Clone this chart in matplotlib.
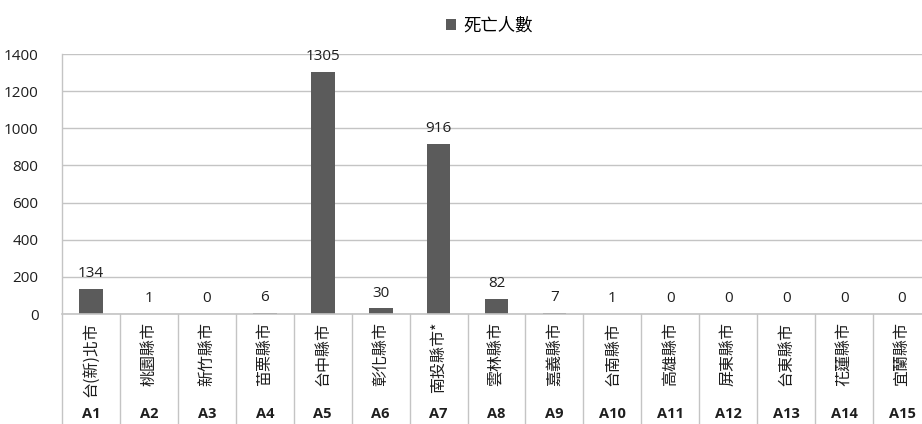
import numpy as np
import matplotlib
matplotlib.use('Agg')
import matplotlib.pyplot as plt
from matplotlib.transforms import blended_transform_factory

# deaths per county/city
codes = ['A1', 'A2', 'A3', 'A4', 'A5', 'A6', 'A7', 'A8', 'A9', 'A10',
         'A11', 'A12', 'A13', 'A14', 'A15']
names = ['台(新)北市', '桃園縣市', '新竹縣市', '苗栗縣市', '台中縣市', '彰化縣市',
         '南投縣市*', '雲林縣市', '嘉義縣市', '台南縣市', '高雄縣市', '屏東縣市',
         '台東縣市', '花蓮縣市', '宜蘭縣市']
deaths = [134, 1, 0, 6, 1305, 30, 916, 82, 7, 1, 0, 0, 0, 0, 0]
series_name = '死亡人數'
yticks = [0, 200, 400, 600, 800, 1000, 1200, 1400]

cjk = ['Noto Sans CJK TC', 'DejaVu Sans']
num_font = ['Open Sans', 'DejaVu Sans']
grid_col = '#c4c4c4'
bar_col = '#5b5b5b'
txt_col = '#1e1e1e'

W, H = 922, 424
fig = plt.figure(figsize=(W / 100, H / 100), dpi=100)
fig.patch.set_facecolor('white')

# plot area runs slightly past the right edge of the figure
left, right, top, zero = 62, 931, 54, 314
ax = fig.add_axes([left / W, (H - zero) / H, (right - left) / W, (zero - top) / H])

x = np.arange(len(deaths))
bars = ax.bar(x, deaths, width=0.41, color=bar_col, label=series_name, zorder=3)

ax.set_xlim(-0.5, len(deaths) - 0.5)
ax.set_ylim(0, 1400)
ax.set_yticks(yticks)
ax.set_yticklabels([str(t) for t in yticks], family=num_font, fontsize=11, color=txt_col)
ax.tick_params(axis='y', length=0, pad=17)
ax.set_xticks([])
ax.yaxis.grid(True, color=grid_col, lw=1, zorder=0)
for s in ax.spines.values():
    s.set_visible(False)

# value labels above bars
for xi, v in zip(x, deaths):
    ax.annotate(str(v), (xi, v), xytext=(0, 5.5), textcoords='offset points',
                ha='center', va='bottom', family=num_font, fontsize=11, color=txt_col)

# category table under the plot
tr = blended_transform_factory(ax.transData, ax.transAxes)
ax.plot([-0.5, len(deaths) - 0.5], [0, 0], transform=tr, color=grid_col, lw=1.2,
        clip_on=False, zorder=4)
for i in range(len(deaths) + 1):
    ax.plot([i - 0.5, i - 0.5], [1.0 if i == 0 else 0, -0.5], transform=tr,
            color=grid_col, lw=1, clip_on=False)
for xi, nm, cd in zip(x, names, codes):
    ax.text(xi, -0.03, nm, transform=tr, rotation=90, ha='center', va='top',
            family=cjk, fontsize=11.5, color=txt_col)
    ax.text(xi, -0.383, cd, transform=tr, ha='center', va='center',
            family=num_font, fontsize=10.5, fontweight='bold', color=txt_col)

leg = ax.legend(loc='center', bbox_to_anchor=(489 / W, (H - 26) / H),
                bbox_transform=fig.transFigure, frameon=False,
                handlelength=0.6, handleheight=0.6, handletextpad=0.4,
                prop={'family': cjk, 'size': 12.5})

fig.savefig('out.png', dpi=100, facecolor='white')
